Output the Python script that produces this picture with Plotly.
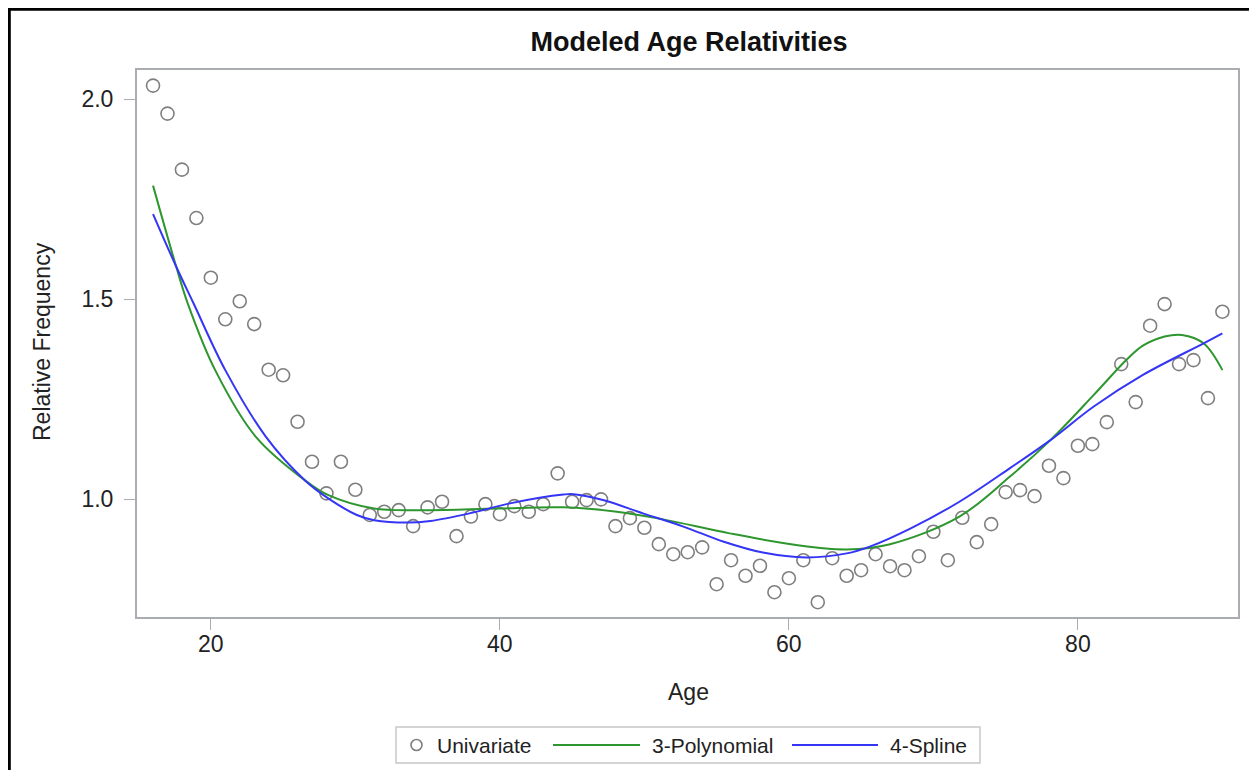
import plotly.graph_objects as go

# ---- data ----
ages = list(range(16, 91))
univariate = [
    2.034, 1.964, 1.824, 1.703, 1.554, 1.450, 1.495, 1.438, 1.324, 1.310,  # 16-25
    1.194, 1.094, 1.015, 1.094, 1.024, 0.961, 0.969, 0.973, 0.933, 0.980,  # 26-35
    0.994, 0.908, 0.957, 0.988, 0.963, 0.983, 0.969, 0.988, 1.065, 0.994,  # 36-45
    0.998, 1.000, 0.933, 0.953, 0.929, 0.888, 0.863, 0.868, 0.880, 0.788,  # 46-55
    0.848, 0.809, 0.834, 0.768, 0.803, 0.848, 0.743, 0.853, 0.809, 0.823,  # 56-65
    0.863, 0.833, 0.823, 0.858, 0.919, 0.848, 0.954, 0.893, 0.938, 1.018,  # 66-75
    1.023, 1.008, 1.084, 1.053, 1.134, 1.138, 1.193, 1.338, 1.243, 1.434,  # 76-85
    1.488, 1.338, 1.348, 1.253, 1.469,                                      # 86-90
]

poly_ages = [16, 17.6, 18.4, 20.3, 23.1, 26.5, 28.1, 31.3, 34.8, 39.8, 44.4,
             48.1, 51.3, 55.9, 60.5, 64.0, 67.0, 71.8, 75.3, 78.1, 81.1,
             83.4, 84.5, 86.0, 87.2, 88.7, 90]
poly_vals = [1.784, 1.582, 1.490, 1.323, 1.157, 1.048, 1.011, 0.977, 0.973, 0.977, 0.980,
             0.969, 0.950, 0.915, 0.886, 0.875, 0.888, 0.957, 1.057, 1.148, 1.261,
             1.350, 1.384, 1.407, 1.411, 1.390, 1.323]

spline_ages = [16, 17.6, 18.8, 21.0, 23.8, 26.5, 28.1, 30.1, 31.3, 33.6, 35.2,
               37.9, 40.7, 44.4, 45.1, 47.2, 49.9, 52.7, 55.5, 58.2, 61.2,
               64.0, 65.6, 68.4, 71.8, 75.3, 78.1, 81.1, 84.5, 88.7, 90]
spline_vals = [1.713, 1.582, 1.490, 1.323, 1.157, 1.048, 1.003, 0.961, 0.948, 0.942, 0.946,
               0.965, 0.990, 1.012, 1.013, 0.998, 0.965, 0.932, 0.894, 0.867, 0.855,
               0.865, 0.882, 0.927, 0.994, 1.078, 1.148, 1.232, 1.311, 1.390, 1.415]

x_ticks = [20, 40, 60, 80]
y_ticks = [1.0, 1.5, 2.0]
y_ticklabels = ["1.0", "1.5", "2.0"]

series_names = ["Univariate", "3-Polynomial", "4-Spline"]
colors = {"Univariate": "#7F7F7F", "3-Polynomial": "#2E962E", "4-Spline": "#3535F5"}

# ---- layout geometry (page pixels; page body has an 8px margin) ----
OFF = 8
PAGE_W, PAGE_H = 1257, 778
W, H = PAGE_W - OFF, PAGE_H - 2 * OFF
L, R, T, B = 137 - OFF, 1238 - OFF, 70 - OFF, 617 - OFF


def px(x_page):
    return (x_page - OFF - L) / (R - L)


def py(y_page):
    return (B - (y_page - OFF)) / (B - T)


FONT = "Liberation Sans, Arial, sans-serif"
TXT = "#222222"
AXC = "#A9ADB1"

fig = go.Figure()
fig.add_trace(go.Scatter(
    x=ages, y=univariate, mode="markers", name=series_names[0],
    marker=dict(symbol="circle-open", size=13, color=colors["Univariate"],
                line=dict(width=1.6, color=colors["Univariate"])),
))
fig.add_trace(go.Scatter(
    x=poly_ages, y=poly_vals, mode="lines", name=series_names[1],
    line=dict(color=colors["3-Polynomial"], width=2, shape="spline", smoothing=1.0),
))
fig.add_trace(go.Scatter(
    x=spline_ages, y=spline_vals, mode="lines", name=series_names[2],
    line=dict(color=colors["4-Spline"], width=2, shape="spline", smoothing=1.0),
))

# ---- custom legend (box, symbols, labels) ----
LEG_Y = 745
shapes = [
    dict(type="rect", xref="paper", yref="paper", x0=px(396), x1=px(980), y0=py(727), y1=py(763),
         line=dict(color="#C8C8C8", width=1.5), fillcolor="white", layer="below"),
    dict(type="circle", xref="paper", yref="paper", x0=px(411), x1=px(422), y0=py(739.5), y1=py(750.5),
         line=dict(color=colors["Univariate"], width=1.6)),
    dict(type="line", xref="paper", yref="paper", x0=px(553), x1=px(640), y0=py(LEG_Y), y1=py(LEG_Y),
         line=dict(color=colors["3-Polynomial"], width=2)),
    dict(type="line", xref="paper", yref="paper", x0=px(792), x1=px(878), y0=py(LEG_Y), y1=py(LEG_Y),
         line=dict(color=colors["4-Spline"], width=2)),
    # outer frame (black left/top, light right)
    dict(type="line", xref="paper", yref="paper", x0=px(9.3), x1=px(9.3), y0=py(8), y1=py(PAGE_H + 20),
         line=dict(color="black", width=3)),
    dict(type="line", xref="paper", yref="paper", x0=px(8), x1=px(PAGE_W + 20), y0=py(9.3), y1=py(9.3),
         line=dict(color="black", width=3)),
    dict(type="line", xref="paper", yref="paper", x0=px(1254), x1=px(1254), y0=py(11), y1=py(PAGE_H + 20),
         line=dict(color="#D0D0D0", width=2)),
]

annotations = [
    dict(text=series_names[0], x=px(435), y=py(LEG_Y), xref="paper", yref="paper",
         xanchor="left", yanchor="middle", showarrow=False, font=dict(size=21, color=TXT)),
    dict(text=series_names[1], x=px(650), y=py(LEG_Y), xref="paper", yref="paper",
         xanchor="left", yanchor="middle", showarrow=False, font=dict(size=21, color=TXT)),
    dict(text=series_names[2], x=px(888), y=py(LEG_Y), xref="paper", yref="paper",
         xanchor="left", yanchor="middle", showarrow=False, font=dict(size=21, color=TXT)),
    dict(text="Age", x=px(688), y=py(692), xref="paper", yref="paper",
         xanchor="center", yanchor="middle", showarrow=False, font=dict(size=23, color=TXT)),
    dict(text="Relative Frequency", x=px(42), y=py(342), xref="paper", yref="paper",
         xanchor="center", yanchor="middle", showarrow=False, textangle=-90,
         font=dict(size=23, color=TXT)),
]

fig.update_layout(
    width=W, height=H,
    margin=dict(l=L, r=W - R, t=T, b=H - B, pad=0),
    paper_bgcolor="white", plot_bgcolor="white",
    font=dict(family=FONT, size=22, color=TXT),
    title=dict(text="<b>Modeled Age Relativities</b>", x=px(689), xref="paper",
               xanchor="center", y=1 - (42 - OFF) / H, yref="container", yanchor="middle",
               font=dict(family=FONT, size=27, color="#111111")),
    showlegend=False,
    xaxis=dict(range=[14.89, 91.08], tickvals=x_ticks, ticks="outside", ticklen=11,
               tickcolor=AXC, showline=True, linecolor=AXC, linewidth=2, mirror=True,
               showgrid=False, zeroline=False, tickfont=dict(size=23, color=TXT),
               ticklabelstandoff=-6),
    yaxis=dict(range=[0.706, 2.073], tickvals=y_ticks, ticktext=y_ticklabels,
               ticks="outside", ticklen=11, tickcolor=AXC, showline=True,
               linecolor=AXC, linewidth=2, mirror=True, showgrid=False, zeroline=False,
               tickfont=dict(size=23, color=TXT), ticklabelstandoff=6),
    shapes=shapes,
    annotations=annotations,
)

fig.write_html("out.html")
